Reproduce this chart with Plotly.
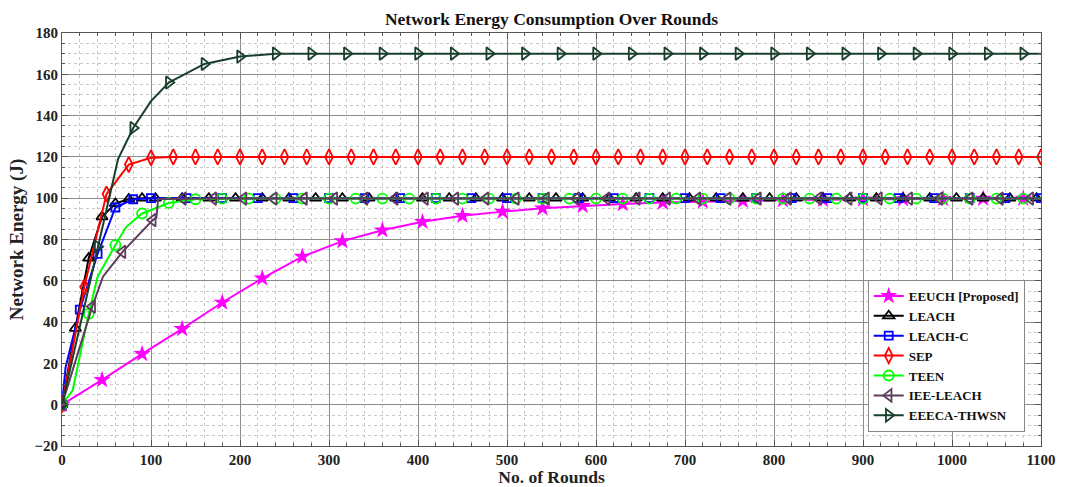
import plotly.graph_objects as go

# ---- Data: rounds (x) and cumulative network energy in joules (y) ----
# Marked samples for each protocol, plus extra line-only samples.

eeuch_x = [0, 45, 90, 135, 180, 225, 270, 315, 360, 405, 450, 495, 540, 585, 630,
           675, 720, 765, 810, 855, 900, 945, 990, 1035, 1080]
eeuch_y = [0, 12, 24.6, 36.7, 49.5, 61.2, 71.7, 79.2, 84.5, 88.6, 91.5, 93.5, 95.1, 96.3, 97.2,
           97.9, 98.4, 98.8, 99.1, 99.3, 99.5, 99.6, 99.7, 99.8, 99.8]
eeuch_xx = [1100]
eeuch_xy = [99.8]

leach_x = [0, 15, 30, 45, 60, 75, 90, 105, 135, 165, 195, 225, 255, 285, 315, 345, 375,
           405, 435, 465, 495, 525, 555, 585, 615, 645, 675, 705, 735, 765, 795, 825,
           855, 885, 915, 945, 975, 1005, 1035, 1065, 1095]
leach_y = [0, 37, 71, 91, 97.4, 99.6, 100, 100, 100, 100, 100, 100, 100, 100, 100, 100, 100,
           100, 100, 100, 100, 100, 100, 100, 100, 100, 100, 100, 100, 100, 100, 100,
           100, 100, 100, 100, 100, 100, 100, 100, 100]
leach_xx = [1100]
leach_xy = [100]

leachc_x = [0, 20, 40, 60, 80, 100, 140, 180, 220, 260, 300, 340, 380, 420, 460, 500,
            540, 580, 620, 660, 700, 740, 780, 820, 860, 900, 940, 980, 1020, 1060, 1100]
leachc_y = [0, 46, 73, 95.5, 99.5, 100, 100, 100, 100, 100, 100, 100, 100, 100, 100, 100,
            100, 100, 100, 100, 100, 100, 100, 100, 100, 100, 100, 100, 100, 100, 100]
leachc_xx = [4]
leachc_xy = [18]

sep_x = [0, 25, 50, 75, 100, 125, 150, 175, 200, 225, 250, 275, 300, 325, 350, 375, 400,
         425, 450, 475, 500, 525, 550, 575, 600, 625, 650, 675, 700, 725, 750, 775, 800,
         825, 850, 875, 900, 925, 950, 975, 1000, 1025, 1050, 1075, 1100]
sep_y = [0, 57, 102, 116.3, 119.6, 120, 120, 120, 120, 120, 120, 120, 120, 120, 120, 120, 120,
         120, 120, 120, 120, 120, 120, 120, 120, 120, 120, 120, 120, 120, 120, 120, 120,
         120, 120, 120, 120, 120, 120, 120, 120, 120, 120, 120, 120]
sep_xx = []
sep_xy = []

teen_x = [0, 30, 60, 90, 120, 150, 180, 210, 240, 270, 300, 330, 360, 390, 420, 450, 480,
          510, 540, 570, 600, 630, 660, 690, 720, 750, 780, 810, 840, 870, 900, 930, 960,
          990, 1020, 1050, 1080]
teen_y = [0, 44, 77.3, 92.6, 97.7, 99.5, 99.8, 99.8, 99.8, 99.8, 99.8, 99.8, 99.8, 99.8, 99.8,
          99.8, 99.8, 99.8, 99.8, 99.8, 99.8, 99.8, 99.8, 99.8, 99.8, 99.8, 99.8, 99.8, 99.8,
          99.8, 99.8, 99.8, 99.8, 99.8, 99.8, 99.8, 99.8]
teen_xx = [12, 40, 72, 1100]
teen_xy = [7, 62, 86, 99.8]

iee_x = [0, 34, 68, 102, 136, 170, 204, 238, 272, 306, 340, 374, 408, 442, 476, 510, 544,
         578, 612, 646, 680, 714, 748, 782, 816, 850, 884, 918, 952, 986, 1020, 1054, 1088]
iee_y = [0, 47.5, 74, 89.4, 99.8, 99.8, 99.8, 99.8, 99.8, 99.8, 99.8, 99.8, 99.8, 99.8, 99.8,
         99.8, 99.8, 99.8, 99.8, 99.8, 99.8, 99.8, 99.8, 99.8, 99.8, 99.8, 99.8, 99.8, 99.8,
         99.8, 99.8, 99.8, 99.8]
iee_xx = [46, 106, 108, 1100]
iee_xy = [62, 90.5, 99.6, 99.8]

eeeca_x = [0, 40, 80, 120, 160, 200, 240, 280, 320, 360, 400, 440, 480, 520, 560, 600, 640,
           680, 720, 760, 800, 840, 880, 920, 960, 1000, 1040, 1080]
eeeca_y = [0, 76.5, 134, 156, 165, 168.6, 170, 170, 170, 170, 170, 170, 170, 170, 170, 170, 170,
           170, 170, 170, 170, 170, 170, 170, 170, 170, 170, 170]
eeeca_xx = [63, 100, 1100]
eeeca_xy = [119, 147, 170]

x_ticks = [0, 100, 200, 300, 400, 500, 600, 700, 800, 900, 1000, 1100]
y_ticks = [-20, 0, 20, 40, 60, 80, 100, 120, 140, 160, 180]

# ---- Styling per protocol ----
series = [
    ("EEUCH [Proposed]", eeuch_x, eeuch_y, eeuch_xx, eeuch_xy, "#ff00ff", "star", 13),
    ("LEACH", leach_x, leach_y, leach_xx, leach_xy, "#000000", "triangle-up-open", 10),
    ("LEACH-C", leachc_x, leachc_y, leachc_xx, leachc_xy, "#0000ff", "square-open", 8),
    ("SEP", sep_x, sep_y, sep_xx, sep_xy, "#ff0000", "diamond-tall-open", 11),
    ("TEEN", teen_x, teen_y, teen_xx, teen_xy, "#00ff00", "circle-open", 10),
    ("IEE-LEACH", iee_x, iee_y, iee_xx, iee_xy, "#5e3b5c", "triangle-left-open", 11),
    ("EEECA-THWSN", eeeca_x, eeeca_y, eeeca_xx, eeeca_xy, "#173f2c", "triangle-right-open", 11),
]

FONT = "Liberation Serif"
fig = go.Figure()

for name, mx, my, ex, ey, color, symbol, size in series:
    pts = sorted(list(zip(mx, my)) + list(zip(ex, ey)))
    lx = [p[0] for p in pts]
    ly = [p[1] for p in pts]
    mk = dict(symbol=symbol, size=size, color=color,
              line=dict(color=color, width=1.8 if "open" in symbol else 0))
    # continuous curve
    fig.add_trace(go.Scatter(x=lx, y=ly, mode="lines", line=dict(color=color, width=2),
                             showlegend=False, legendgroup=name, hoverinfo="skip"))
    # marked samples
    fig.add_trace(go.Scatter(x=mx, y=my, mode="markers", marker=mk,
                             showlegend=False, legendgroup=name, name=name))
    # legend entry
    fig.add_trace(go.Scatter(x=[None], y=[None], mode="lines+markers", name=name,
                             line=dict(color=color, width=2), marker=mk, legendgroup=name))

axis_common = dict(
    showline=True, linecolor="#555555", linewidth=1, mirror="ticks",
    ticks="inside", ticklen=6, tickcolor="#555555",
    showgrid=True, gridcolor="#8c8c8c", gridwidth=1, zeroline=False,
    automargin=False,
    tickfont=dict(family=FONT, size=15, color="#222222", weight="bold"),
)

fig.update_xaxes(
    range=[0, 1100], tickvals=x_ticks,
    minor=dict(dtick=20, showgrid=True, gridcolor="#c8c8c8", griddash="dot",
               ticks="inside", ticklen=3, tickcolor="#555555"),
    title=dict(text="No. of Rounds", standoff=5,
               font=dict(family=FONT, size=17.5, color="#222222", weight="bold")),
    **axis_common,
)
fig.update_yaxes(
    range=[-20, 180], tickvals=y_ticks,
    minor=dict(dtick=5, showgrid=True, gridcolor="#c8c8c8", griddash="dot",
               ticks="inside", ticklen=3, tickcolor="#555555"),
    title=dict(text="Network Energy (J)", standoff=5,
               font=dict(family=FONT, size=19, color="#222222", weight="bold")),
    **axis_common,
)

fig.update_layout(
    width=1069, height=487,
    margin=dict(l=62, r=28, t=33, b=41),
    paper_bgcolor="white", plot_bgcolor="white",
    font=dict(family=FONT, color="#222222", weight="bold"),
    title=dict(text="Network Energy Consumption Over Rounds", x=0.5, xref="paper",
               y=0.961, yanchor="middle",
               font=dict(family=FONT, size=17.5, color="#111111", weight="bold")),
    legend=dict(x=0.823, y=0.034, xanchor="left", yanchor="bottom",
                bgcolor="white", bordercolor="#888888", borderwidth=1,
                font=dict(family=FONT, size=13, color="#111111", weight="bold"),
                itemwidth=30, tracegroupgap=0),
)

fig.write_html("out.html")
